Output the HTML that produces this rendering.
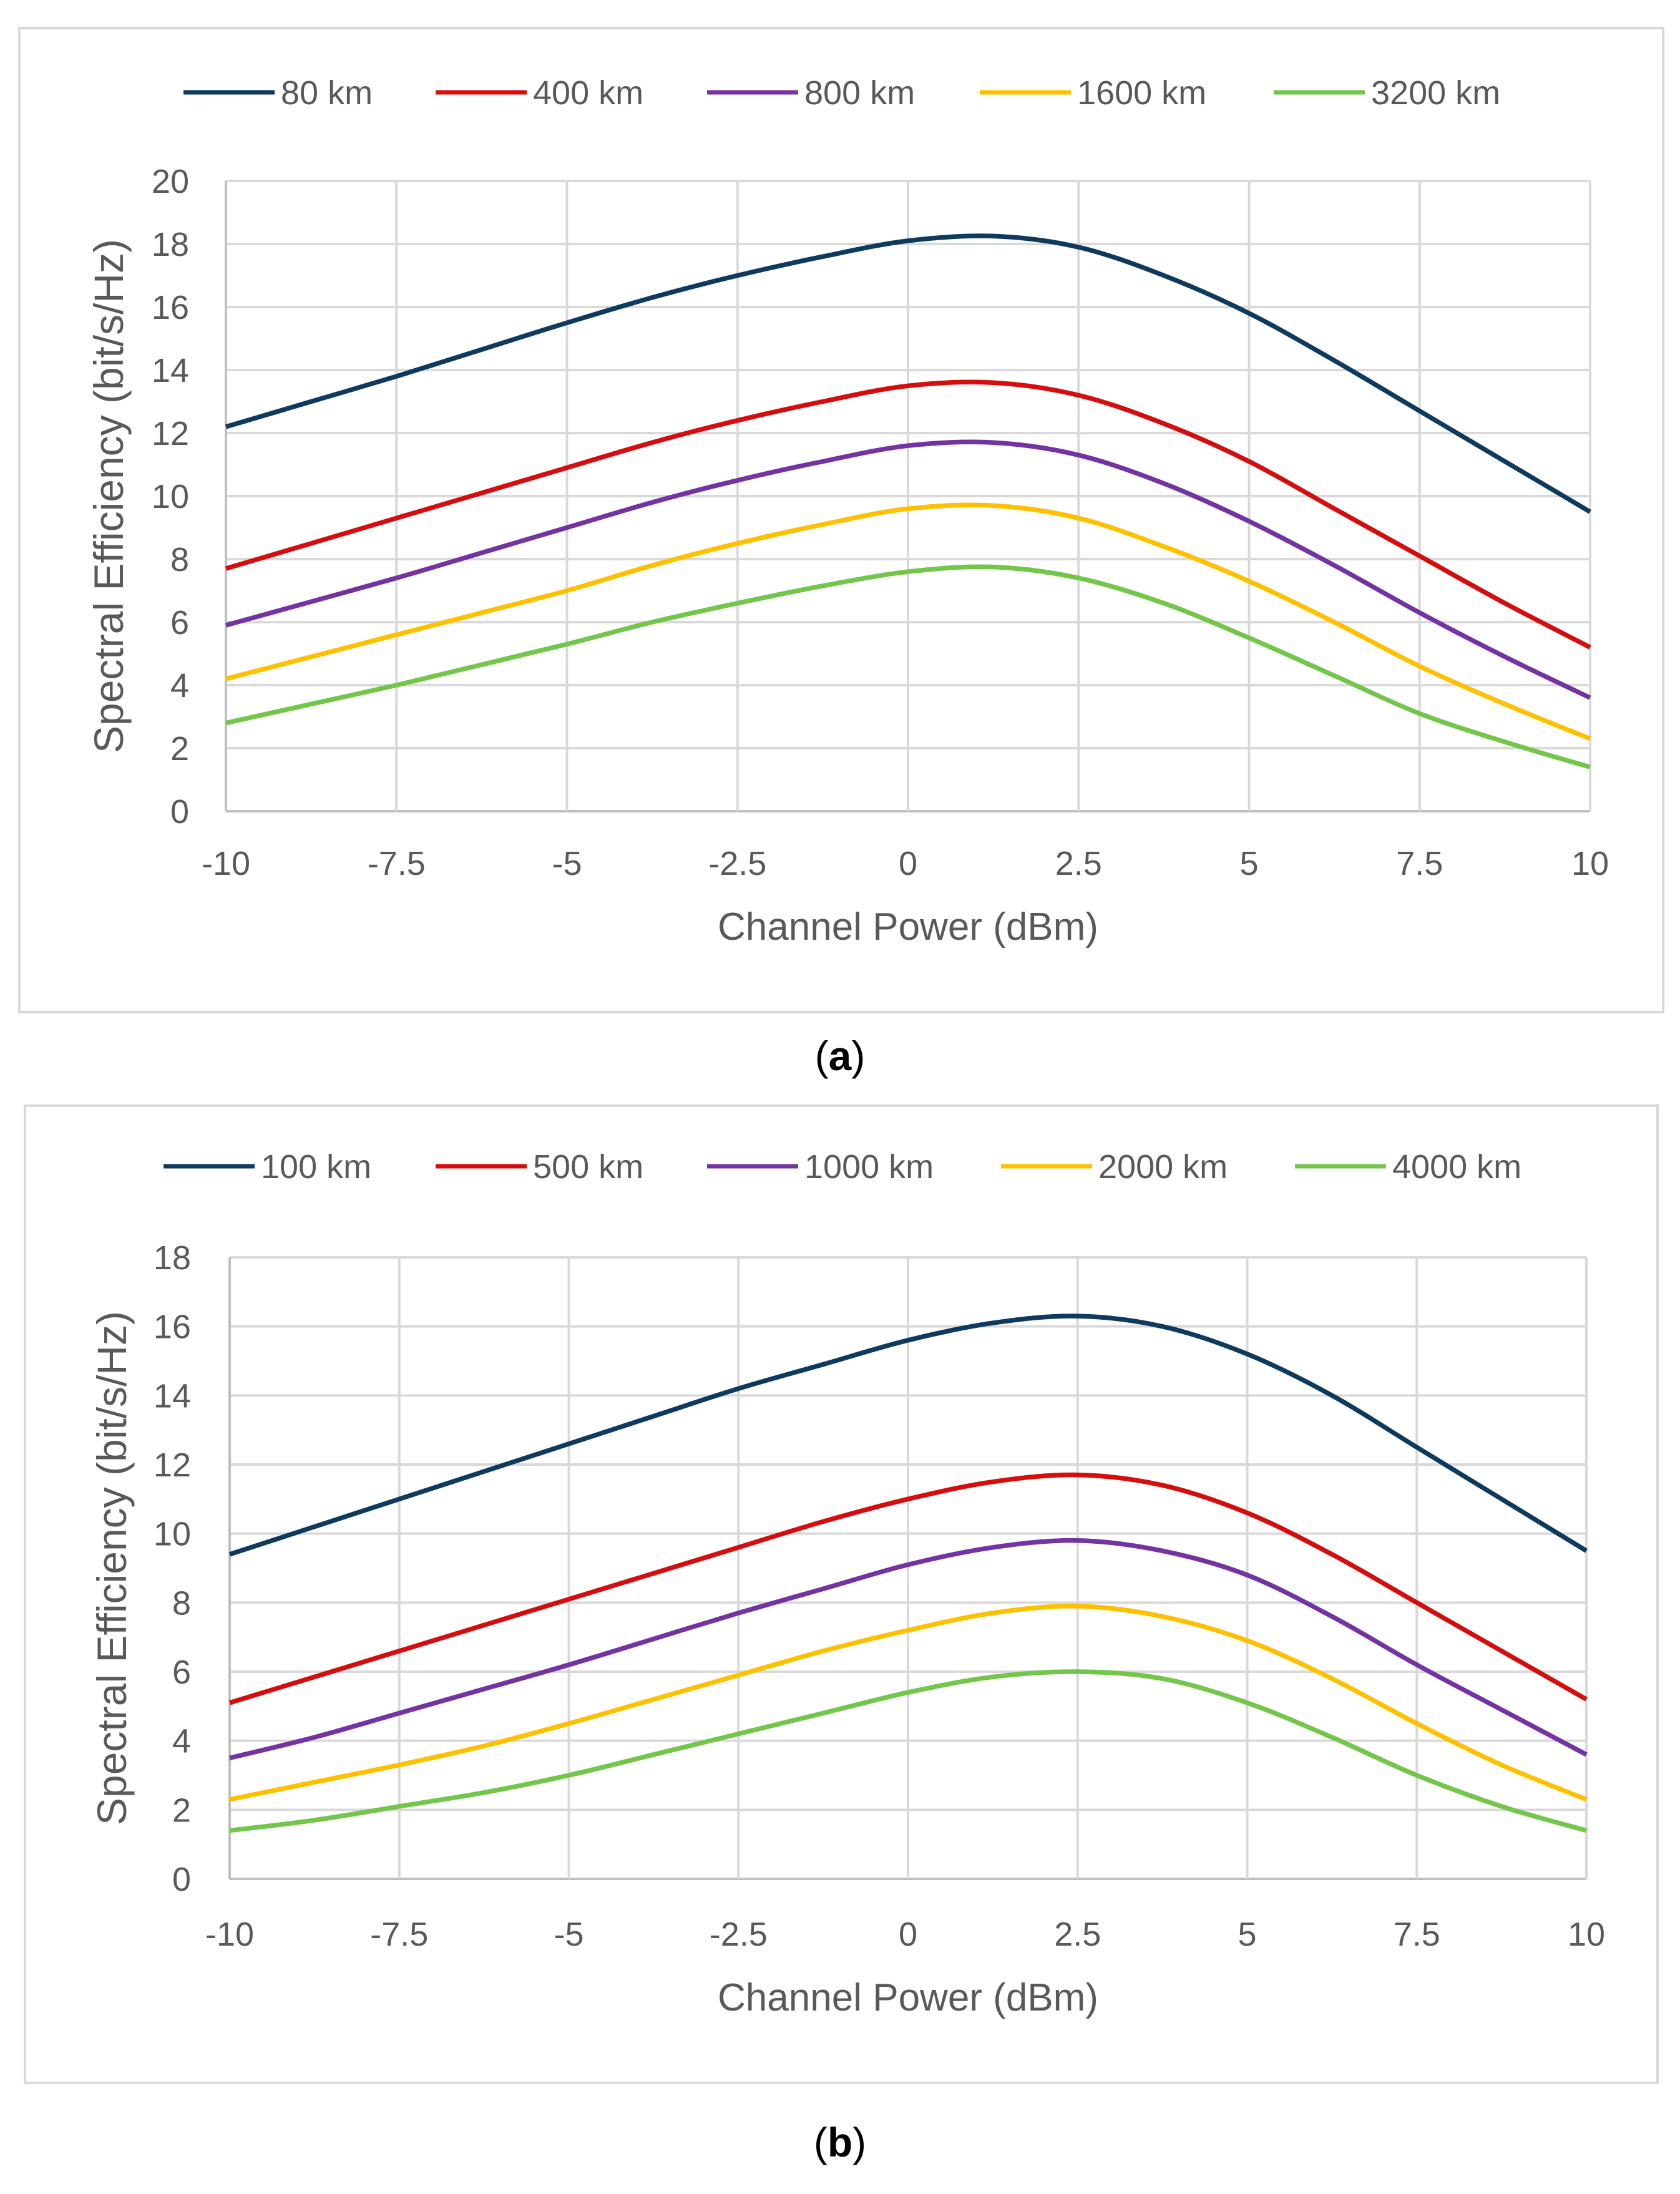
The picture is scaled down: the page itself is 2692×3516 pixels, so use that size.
<!DOCTYPE html>
<html><head><meta charset="utf-8"><style>
html,body{margin:0;padding:0;background:#fff}
svg{display:block}
text{font-family:"Liberation Sans",sans-serif}
</style></head><body>
<svg id="root" width="2692" height="3516" viewBox="0 0 2692 3516" xmlns="http://www.w3.org/2000/svg"></svg>
<script>
// ---- shared x values ----
const xVals = [-10,-8.75,-7.5,-6.25,-5,-3.75,-2.5,-1.25,0,1.25,2.5,3.75,5,6.25,7.5,8.75,10];
// ---- Chart (a) data ----
const a80 = [12.2,13.0,13.8,14.65,15.5,16.3,17.0,17.6,18.1,18.25,17.9,17.0,15.8,14.3,12.7,11.1,9.5];
const a400 = [7.7,8.5,9.3,10.1,10.9,11.7,12.4,13.0,13.5,13.6,13.2,12.3,11.1,9.6,8.1,6.6,5.2];
const a800 = [5.9,6.65,7.4,8.2,9.0,9.8,10.5,11.1,11.6,11.7,11.3,10.4,9.2,7.8,6.3,4.9,3.6];
const a1600 = [4.2,4.9,5.6,6.3,7.0,7.8,8.5,9.1,9.6,9.7,9.3,8.4,7.3,6.0,4.6,3.4,2.3];
const a3200 = [2.8,3.4,4.0,4.65,5.3,6.0,6.6,7.15,7.6,7.75,7.4,6.6,5.5,4.3,3.1,2.2,1.4];
const namesA = ["80 km","400 km","800 km","1600 km","3200 km"];
// ---- Chart (b) data ----
const b100 = [9.4,10.2,11.0,11.8,12.6,13.4,14.2,14.9,15.6,16.1,16.3,16.0,15.2,14.0,12.5,11.0,9.5];
const b500 = [5.1,5.85,6.6,7.35,8.1,8.85,9.6,10.35,11.0,11.5,11.7,11.4,10.6,9.4,8.0,6.6,5.2];
const b1000 = [3.5,4.1,4.8,5.5,6.2,6.95,7.7,8.4,9.1,9.6,9.8,9.5,8.8,7.6,6.2,4.9,3.6];
const b2000 = [2.3,2.8,3.3,3.85,4.5,5.2,5.9,6.6,7.2,7.7,7.9,7.6,6.9,5.8,4.5,3.3,2.3];
const b4000 = [1.4,1.7,2.1,2.5,3.0,3.6,4.2,4.8,5.4,5.85,6.0,5.8,5.1,4.1,3.0,2.1,1.4];
const namesB = ["100 km","500 km","1000 km","2000 km","4000 km"];
const xTicks = ["-10","-7.5","-5","-2.5","0","2.5","5","7.5","10"];
const yTicksA = [0,2,4,6,8,10,12,14,16,18,20];
const yTicksB = [0,2,4,6,8,10,12,14,16,18];

const colors = ["#0d3a5e","#d60d0d","#7433a3","#ffc000","#72c64a"];
const NS = "http://www.w3.org/2000/svg";
const root = document.getElementById('root');
function mk(tag, attrs, parent){const e=document.createElementNS(NS,tag);for(const k in attrs)e.setAttribute(k,attrs[k]);(parent||root).appendChild(e);return e;}

function smoothPath(pts){
  let d="M"+pts[0][0].toFixed(1)+","+pts[0][1].toFixed(1);
  for(let i=0;i<pts.length-1;i++){
    const p0=pts[Math.max(0,i-1)],p1=pts[i],p2=pts[i+1],p3=pts[Math.min(pts.length-1,i+2)];
    const c1=[p1[0]+(p2[0]-p0[0])/6,p1[1]+(p2[1]-p0[1])/6];
    const c2=[p2[0]-(p3[0]-p1[0])/6,p2[1]-(p3[1]-p1[1])/6];
    d+=" C"+c1[0].toFixed(1)+","+c1[1].toFixed(1)+" "+c2[0].toFixed(1)+","+c2[1].toFixed(1)+" "+p2[0].toFixed(1)+","+p2[1].toFixed(1);
  }
  return d;
}

function chart(cfg){
  const g=mk('g',{});
  
  
  const fr=mk('rect',{x:cfg.frame[0],y:cfg.frame[1],width:cfg.frame[2],height:cfg.frame[3],fill:'#fff',stroke:'#d9d9d9','stroke-width':4},g);
  
  
  const L=cfg.plot[0],T=cfg.plot[1],R=cfg.plot[2],B=cfg.plot[3];
  const ymax=cfg.yTicks[cfg.yTicks.length-1];
  const sx=v=>L+(v+10)/20*(R-L);
  const sy=v=>B-v/ymax*(B-T);
  cfg.yTicks.forEach(t=>{
    const ln=mk('line',{x1:L,x2:R,y1:sy(t),y2:sy(t),stroke:t===0?'#bfbfbf':'#d9d9d9','stroke-width':4},g);
    
    
    const tx=mk('text',{x:cfg.yLabelX,y:sy(t)+19,'text-anchor':'end','font-size':54,fill:'#595959'},g);
    tx.textContent=t;
    
    
  });
  xTicks.forEach(t=>{
    const v=parseFloat(t);
    const ln=mk('line',{x1:sx(v),x2:sx(v),y1:T,y2:B,stroke:v===-10?'#bfbfbf':'#d9d9d9','stroke-width':4},g);
    
    
    const tx=mk('text',{x:sx(v),y:cfg.xLabelY,'text-anchor':'middle','font-size':54,fill:'#595959'},g);
    tx.textContent=t;
    
    
  });
  cfg.series.forEach((s,i)=>{
    const pts=cfg.xs.map((x,j)=>[sx(x),sy(s[j])]);
    const p=mk('path',{d:smoothPath(pts),fill:'none',stroke:colors[i],'stroke-width':7.5,'stroke-linejoin':'round'},g);
    
    
  });
  cfg.names.forEach((n,i)=>{
    const lx=cfg.legX[i];
    const ln=mk('line',{x1:lx,x2:lx+146,y1:cfg.legY,y2:cfg.legY,stroke:colors[i],'stroke-width':7},g);
    
    
    const tx=mk('text',{x:lx+156,y:cfg.legY+19,'font-size':54,fill:'#595959'},g);
    tx.textContent=n;
    
    
  });
  const xt=mk('text',{x:(L+R)/2,y:cfg.xTitleY,'text-anchor':'middle','font-size':62,fill:'#595959'},g);
  xt.textContent='Channel Power (dBm)';
  
  
  const yc=(T+B)/2;
  const yt=mk('text',{x:0,y:0,'text-anchor':'middle','font-size':66,fill:'#595959',transform:'translate('+cfg.yTitleX+','+yc+') rotate(-90)'},g);
  yt.textContent='Spectral Efficiency (bit/s/Hz)';
  
  
  const cap=mk('text',{x:1346,y:cfg.capY,'text-anchor':'middle','font-size':66,fill:'#000','font-family':'Liberation Serif'},g);
  cap.innerHTML='(<tspan font-weight="bold">'+cfg.cap+'</tspan>)';
  
  
}

chart({id:'chart-a',frame:[31,45,2634,1577],plot:[362,290,2548,1300],yTicks:yTicksA,xs:xVals,
  series:[a80,a400,a800,a1600,a3200],names:namesA,legX:[294,698,1133,1570,2041],legY:148,
  yLabelX:303,xLabelY:1402,xTitleY:1506,yTitleX:197,capY:1715,cap:'a'});
chart({id:'chart-b',frame:[40,1772,2616,1566],plot:[368,2015,2542,3011],yTicks:yTicksB,xs:xVals,
  series:[b100,b500,b1000,b2000,b4000],names:namesB,legX:[262,698,1133,1604,2075],legY:1869,
  yLabelX:306,xLabelY:3118,xTitleY:3222,yTitleX:202,capY:3456,cap:'b'});
</script>
</body></html>
